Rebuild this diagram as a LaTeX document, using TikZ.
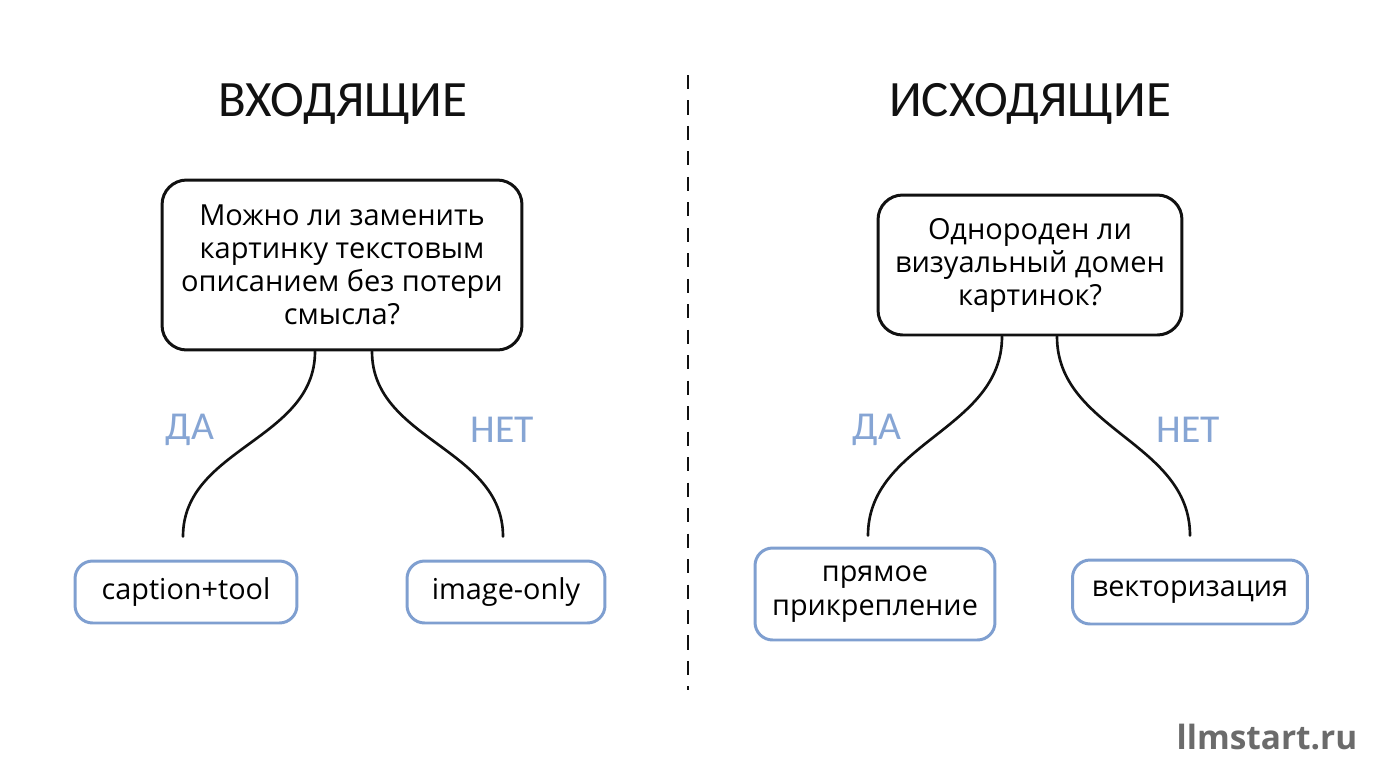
\documentclass[tikz,border=0pt]{standalone}
\usepackage{fontspec}
\setmainfont{Open Sans}
\newfontfamily\headfont{Carlito}
\usetikzlibrary{positioning,calc}
\definecolor{ink}{HTML}{111111}
\definecolor{leafline}{HTML}{7F9FD0}
\definecolor{answer}{HTML}{86A5D4}
\definecolor{wmark}{HTML}{6B6B6B}
\tikzset{
  head/.style   = {font=\headfont\fontsize{29}{34}\selectfont, text=ink, inner sep=0pt},
  ask/.style    = {draw=ink, line width=1.7pt, rounded corners=14pt, align=center,
                   inner sep=0pt, font=\fontsize{16.5}{18.8}\selectfont},
  leaf/.style   = {draw=leafline, line width=1.7pt, rounded corners=10pt, align=center,
                   inner sep=0pt, font=\fontsize{16.4}{19}\selectfont},
  ans/.style    = {font=\headfont\fontsize{22.5}{26}\selectfont, text=answer, inner sep=0pt},
  branch/.style = {draw=ink, line width=1.5pt, line cap=round},
  split/.style  = {draw=ink, line width=1.6pt, dash pattern=on 8pt off 6.5pt},
}

\begin{document}
\begin{tikzpicture}[x=0.02cm,y=0.02cm]
\useasboundingbox (0,0) rectangle (1376,-768);

% ------------------------------------------------------------------ headings
\node[head] (h1) at (343,-104) {ВХОДЯЩИЕ};
\node[head] (h2) at (1030,-104) {ИСХОДЯЩИЕ};
\draw[split] (688,-75) -- (688,-690);

% ------------------------------------------------------------------ questions
\node[ask, minimum width=7.2cm, minimum height=3.4cm] (q1) at (342,-265)
  {Можно ли заменить\\картинку текстовым\\описанием без потери\\смысла?};
\node[ask, minimum width=6.08cm, minimum height=2.8cm] (q2) at (1030,-265)
  {Однороден ли\\визуальный домен\\картинок?};

% ------------------------------------------------------------------ leaves
\node[leaf, minimum width=4.44cm, minimum height=1.24cm] (a1) at (186,-592) {caption+tool};
\node[leaf, minimum width=3.96cm, minimum height=1.24cm] (a2) at (506,-592) {image-only};
\node[leaf, minimum width=4.8cm,  minimum height=1.84cm] (a3) at (875,-594) {прямое\\прикрепление};
\node[leaf, minimum width=4.7cm,  minimum height=1.28cm] (a4) at (1190,-592) {векторизация};

% ------------------------------------------------------------------ branches
\foreach \q/\dx/\a/\ex/\gap in {q1/-27/a1/-3/23, q1/30/a2/-3/23, q2/-28/a3/-7/11, q2/27/a4/0/23}{
  \draw[branch] ($(\q.south)+(\dx,0)$) to[out=-90,in=90] ($(\a.north)+(\ex,\gap)$);}

\node[ans] (y1) at (190,-430) {ДА};
\node[ans] (n1) at (502,-430) {НЕТ};
\node[ans] (y2) at (877,-430) {ДА};
\node[ans] (n2) at (1188,-430) {НЕТ};

% ------------------------------------------------------------------ mark
\node[font=\bfseries\fontsize{19}{22}\selectfont, text=wmark, inner sep=0pt] (wm) at (1267,-737) {llmstart.ru};

\end{tikzpicture}
\end{document}
